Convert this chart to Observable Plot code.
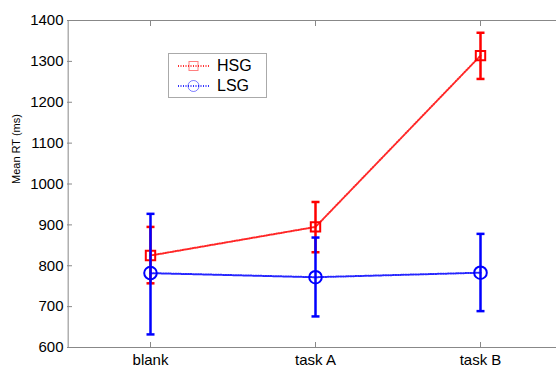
<!DOCTYPE html>
<html>
<head>
<meta charset="utf-8">
<script src="https://cdn.jsdelivr.net/npm/d3@7"></script>
<script src="https://cdn.jsdelivr.net/npm/@observablehq/plot@0.6"></script>
<style>
  html, body { margin: 0; padding: 0; background: #fff; overflow: hidden; }
  #wrap { position: relative; width: 556px; height: 368px; overflow: hidden; font-family: "Liberation Sans", Arial, sans-serif; }
  #legend { position: absolute; left: 168px; top: 53px; width: 99px; height: 45px; border: 1px solid #aaa; background: #fff; box-sizing: border-box; }
  #edgeMask { position: absolute; left: 548px; top: 21px; width: 10px; height: 325px; background: #fff; }
  .row { position: absolute; left: 0; height: 20px; display: flex; align-items: center; }
  .row span { font-size: 16px; color: #000; margin-left: 6px; }
</style>
</head>
<body>
<div id="wrap">
  <div id="chart"></div>
  <div id="edgeMask"></div>
  <div id="legend">
    <div class="row" style="top:2px;left:8px">
      <svg width="34" height="20"><line x1="1" x2="32" y1="10" y2="10" stroke="#ff0000" stroke-width="2" stroke-dasharray="1,1.5" opacity="0.8"/><rect x="12" y="5.5" width="9" height="9" fill="none" stroke="#ff0000" stroke-width="1" opacity="0.5"/></svg><span>HSG</span>
    </div>
    <div class="row" style="top:22px;left:8px">
      <svg width="34" height="20"><line x1="1" x2="32" y1="10" y2="10" stroke="#0000ff" stroke-width="2" stroke-dasharray="1,1.5" opacity="0.8"/><circle cx="16.5" cy="10" r="5.5" fill="none" stroke="#0000ff" stroke-width="1" opacity="0.5"/></svg><span>LSG</span>
    </div>
  </div>
</div>
<script>
const categories = ["blank", "task A", "task B"];
const groups = ["HSG", "LSG"];
const hsgMean = [825, 895, 1314];
const hsgLow  = [757, 833, 1257];
const hsgHigh = [895, 956, 1370];
const lsgMean = [782, 772, 783];
const lsgLow  = [632, 676, 689];
const lsgHigh = [927, 869, 878];
const yTicks = [600, 700, 800, 900, 1000, 1100, 1200, 1300, 1400];
const yDomain = [600, 1400];

const rows = [];
categories.forEach((c, i) => {
  rows.push({cat: c, group: "HSG", mean: hsgMean[i], low: hsgLow[i], high: hsgHigh[i]});
});
categories.forEach((c, i) => {
  rows.push({cat: c, group: "LSG", mean: lsgMean[i], low: lsgLow[i], high: lsgHigh[i]});
});
const colors = {HSG: "#ff0000", LSG: "#0000ff"};

const capSymbol = {
  draw(ctx, size) {
    const w = Math.sqrt(size / Math.PI);
    ctx.moveTo(-w, 0);
    ctx.lineTo(w, 0);
  }
};

const xRange = [66, 563];
const halfStep = (xRange[1] - xRange[0]) / categories.length / 2;

const marks = [];
for (const g of groups) {
  const data = rows.filter(d => d.group === g);
  const col = colors[g];
  marks.push(
    Plot.line(data, {x: "cat", y: "mean", stroke: col, strokeWidth: 2, strokeDasharray: "1,1.5", strokeOpacity: 0.85}),
    Plot.ruleX(data, {x: "cat", y1: "low", y2: "high", stroke: col, strokeWidth: 2.5}),
    Plot.dot(data, {x: "cat", y: "low", symbol: capSymbol, r: 4, stroke: col, strokeWidth: 2.5}),
    Plot.dot(data, {x: "cat", y: "high", symbol: capSymbol, r: 4, stroke: col, strokeWidth: 2.5}),
    g === "HSG"
      ? Plot.dot(data, {x: "cat", y: "mean", symbol: "square", r: 5.3, stroke: col, strokeWidth: 2, fill: "none"})
      : Plot.dot(data, {x: "cat", y: "mean", symbol: "circle", r: 6.3, stroke: col, strokeWidth: 2, fill: "none"})
  );
}

const chart = Plot.plot({
  width: 556,
  height: 368,
  marginLeft: 67,
  marginRight: 0,
  marginTop: 20,
  marginBottom: 21,
  style: {fontFamily: "Liberation Sans, Arial, sans-serif", background: "#fff"},
  x: {type: "point", domain: categories, padding: 0.5, range: xRange, label: null},
  y: {domain: yDomain, label: null},
  marks: [
    Plot.ruleY(yDomain, {stroke: "#888", strokeWidth: 1}),
    Plot.ruleX([categories[0]], {y1: yDomain[0], y2: yDomain[1], dx: -halfStep + 0.5, stroke: "#888", strokeWidth: 1}),
    Plot.axisY(yTicks, {anchor: "left", tickSize: -5, text: null, stroke: "#888", label: null}),
    Plot.axisY(yTicks, {anchor: "left", tickSize: 0, tickPadding: 4, tickFormat: d3.format("d"), fontSize: 15, fill: "#000", label: null}),
    Plot.axisX(categories, {anchor: "bottom", tickSize: 0, tickPadding: 7, fontSize: 15, fill: "#000", label: null}),
    Plot.axisX(categories, {anchor: "bottom", tickSize: -5, text: null, stroke: "#888", label: null}),
    Plot.axisX(categories, {anchor: "top", tickSize: -5, text: null, stroke: "#888", label: null}),
    Plot.text(["Mean RT (ms)"], {frameAnchor: "left", rotate: -90, dx: -51, fontSize: 11, fill: "#000"}),
    ...marks
  ]
});
document.getElementById("chart").appendChild(chart);
</script>
</body>
</html>
